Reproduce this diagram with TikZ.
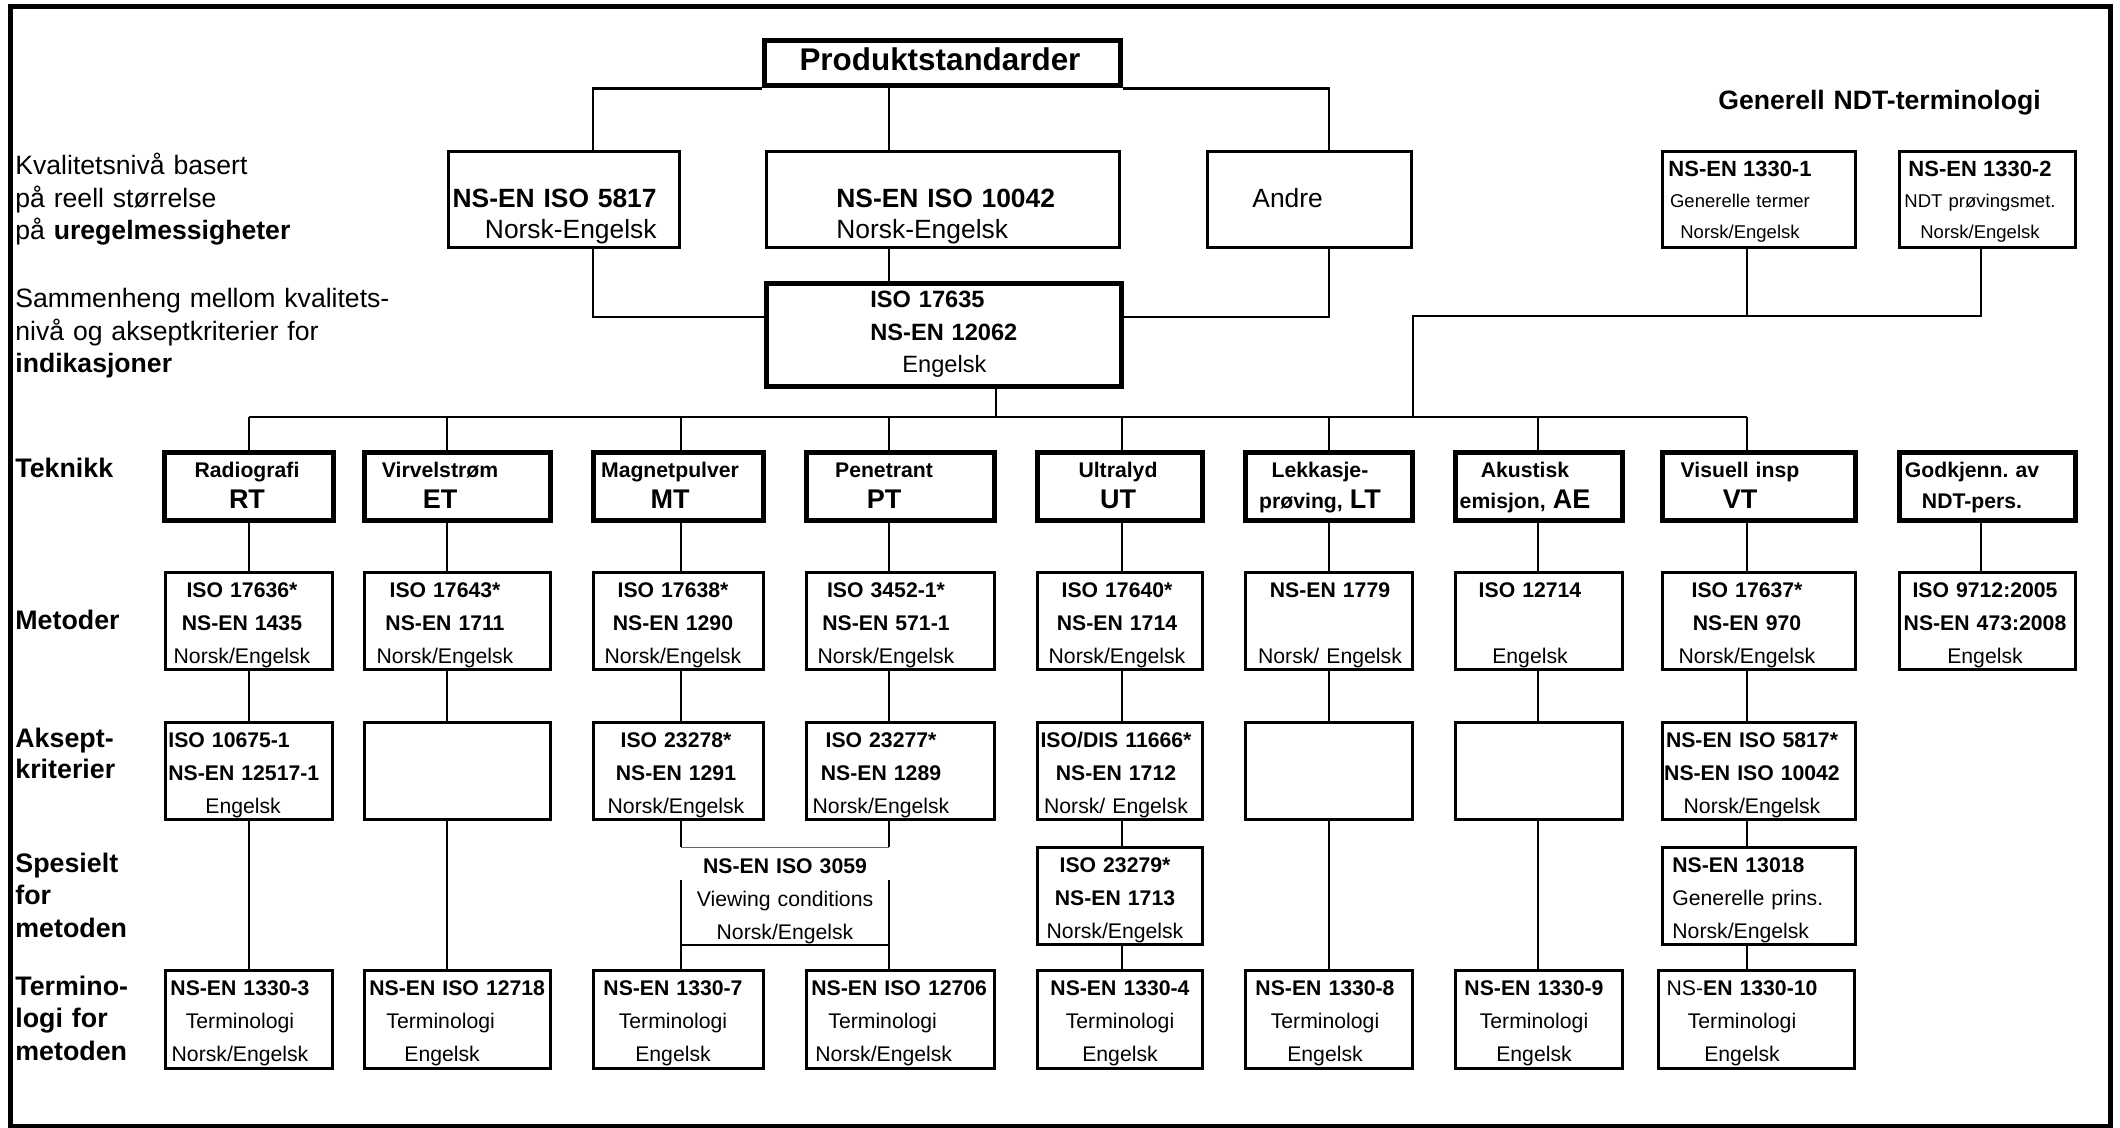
\documentclass[tikz,border=0pt]{standalone}
\usepackage{fontspec}
\setmainfont{Liberation Sans}
\usetikzlibrary{calc}
\tikzset{
  frame/.style={line width=2.5pt},
  conn/.style={line width=1.35pt},
  nbox/.style={draw, line width=1.5pt, inner sep=0pt},
  tbox/.style={draw, line width=2.75pt, inner sep=0pt},
  sbox/.style={inner sep=0pt},
  txt/.style={inner sep=0pt, text width=160pt, align=center, anchor=base, font=\fontsize{10.6}{16.5}\selectfont},
  txtL/.style={align=left, anchor=base west},
  txtR/.style={align=right, anchor=base east},
  tfont/.style={font=\fontsize{10.6}{15.5}\selectfont\bfseries},
  gfont/.style={font=\fontsize{9.25}{15.5}\selectfont},
  lbl/.style={inner sep=0pt, text width=220pt, align=left, anchor=base west, font=\fontsize{13.3}{16.25}\selectfont},
  lblB/.style={lbl, font=\fontsize{13.4}{16.25}\selectfont\bfseries},
}
\newcommand{\mkbox}[9]{%
  \node[#1, minimum width={(#5-#3-3)*0.5pt}, minimum height={(#6-#4-3)*0.5pt}] (#2) at ({(#3+#5)/2},{(#4+#6)/2}) {};
  \node[txt, #7] (#2-t) at (#8) {#9};
}
\newcommand{\techab}[1]{{\fontsize{13.5}{15.5}\selectfont #1}}
\newcommand{\gbold}[1]{{\fontsize{11}{15.5}\selectfont\bfseries #1}}
\begin{document}
\frenchspacing
\begin{tikzpicture}[x=0.5pt,y=-0.5pt]
\useasboundingbox (0,0) rectangle (2120,1128);
\draw[frame] (10.5,6.5) rectangle (2110,1126);

% helper coordinates
\coordinate (bus) at (0,417);
\coordinate (h317) at (0,317);
\coordinate (h316) at (0,316);
\coordinate (h880) at (0,880);
\coordinate (cRT) at (249,0);
\coordinate (cET) at (447,0);
\coordinate (cMT) at (681,0);
\coordinate (cPT) at (889,0);
\coordinate (cUT) at (1122,0);
\coordinate (cLT) at (1329,0);
\coordinate (cAE) at (1538,0);
\coordinate (cVT) at (1747,0);
\coordinate (cGK) at (1981,0);
\coordinate (c593) at (593,0);
\coordinate (c996) at (996,0);
\coordinate (c1413) at (1413,0);

% left texts
\node[lbl] (kval) at (15,175) {Kvalitetsnivå basert\\på reell størrelse\\på \textbf{uregelmessigheter}};
\node[lbl] (samm) at (15,308) {Sammenheng mellom kvalitets-\\nivå og akseptkriterier for\\\textbf{indikasjoner}};
\node[lbl, font=\fontsize{13.3}{16}\selectfont\bfseries] (gen) at (1718,110) {Generell NDT-terminologi};

\node[lblB] (rTek) at (15,478) {Teknikk};
\node[lblB] (rMet) at (15,629) {Metoder};
\node[lblB, font=\fontsize{13.4}{15.75}\selectfont\bfseries] (rAks) at (15,747) {Aksept-\\kriterier};
\node[lblB] (rSpe) at (15,872) {Spesielt\\for\\metoden};
\node[lblB] (rTer) at (15,995) {Termino-\\logi for\\metoden};

% top boxes
\mkbox{tbox}{prod}{763}{39}{1122}{87}{font=\fontsize{15.7}{18}\selectfont\bfseries}{940,71}{Produktstandarder}
\mkbox{nbox}{b5817}{447}{150}{681}{249}{txtR, font=\fontsize{13.2}{15.5}\selectfont}{657,208}{\textbf{NS-EN ISO 5817}\\Norsk-Engelsk}
\mkbox{nbox}{b10042}{765}{150}{1121}{249}{txtL, font=\fontsize{13.2}{15.5}\selectfont}{836,208}{\textbf{NS-EN ISO 10042}\\Norsk-Engelsk}
\mkbox{nbox}{andre}{1206}{150}{1413}{249}{txtL, font=\fontsize{13.2}{15.5}\selectfont}{1252,208}{Andre}
\mkbox{nbox}{n13301}{1661}{150}{1857}{249}{gfont}{1740,177}{\gbold{NS-EN 1330-1}\\Generelle termer\\Norsk/Engelsk}
\mkbox{nbox}{n13302}{1898}{150}{2077}{249}{gfont}{1980,177}{\gbold{NS-EN 1330-2}\\NDT prøvingsmet.\\Norsk/Engelsk}
\mkbox{tbox}{iso}{765}{282}{1123}{388}{txtL, font=\fontsize{11.8}{16.25}\selectfont}{870,308}{\textbf{ISO 17635}\\\textbf{NS-EN 12062}\\\hspace*{16pt}Engelsk}

% technique row
\mkbox{tbox}{tRT}{163}{451}{335}{522}{tfont}{247,478}{Radiografi\\\techab{RT}}
\mkbox{tbox}{tET}{363}{451}{552}{522}{tfont}{440,478}{Virvelstrøm\\\techab{ET}}
\mkbox{tbox}{tMT}{592}{451}{765}{522}{tfont}{670,478}{Magnetpulver\\\techab{MT}}
\mkbox{tbox}{tPT}{805}{451}{996}{522}{tfont}{884,478}{Penetrant\\\techab{PT}}
\mkbox{tbox}{tUT}{1036}{451}{1204}{522}{tfont}{1118,478}{Ultralyd\\\techab{UT}}
\mkbox{tbox}{tLT}{1244}{451}{1414}{522}{tfont}{1320,478}{Lekkasje-\\prøving, \techab{LT}}
\mkbox{tbox}{tAE}{1454}{451}{1624}{522}{tfont}{1525,478}{Akustisk\\emisjon, \techab{AE}}
\mkbox{tbox}{tVT}{1661}{451}{1857}{522}{tfont}{1740,478}{Visuell insp\\\techab{VT}}
\mkbox{tbox}{tGK}{1898}{451}{2077}{522}{tfont}{1972,478}{Godkjenn. av\\NDT-pers.}

% metoder row
\mkbox{nbox}{mRT}{164}{571}{334}{671}{}{242,597}{\textbf{ISO 17636*}\\\textbf{NS-EN 1435}\\Norsk/Engelsk}
\mkbox{nbox}{mET}{363}{571}{552}{671}{}{445,597}{\textbf{ISO 17643*}\\\textbf{NS-EN 1711}\\Norsk/Engelsk}
\mkbox{nbox}{mMT}{592}{571}{765}{671}{}{673,597}{\textbf{ISO 17638*}\\\textbf{NS-EN 1290}\\Norsk/Engelsk}
\mkbox{nbox}{mPT}{805}{571}{996}{671}{}{886,597}{\textbf{ISO 3452-1*}\\\textbf{NS-EN 571-1}\\Norsk/Engelsk}
\mkbox{nbox}{mUT}{1036}{571}{1204}{671}{}{1117,597}{\textbf{ISO 17640*}\\\textbf{NS-EN 1714}\\Norsk/Engelsk}
\mkbox{nbox}{mLT}{1244}{571}{1414}{671}{}{1330,597}{\textbf{NS-EN 1779}\\\mbox{}\\Norsk/ Engelsk}
\mkbox{nbox}{mAE}{1454}{571}{1624}{671}{}{1530,597}{\textbf{ISO 12714}\\\mbox{}\\Engelsk}
\mkbox{nbox}{mVT}{1661}{571}{1857}{671}{}{1747,597}{\textbf{ISO 17637*}\\\textbf{NS-EN 970}\\Norsk/Engelsk}
\mkbox{nbox}{mGK}{1898}{571}{2077}{671}{}{1985,597}{\textbf{ISO 9712:2005}\\\textbf{NS-EN 473:2008}\\Engelsk}

% aksept row
\mkbox{nbox}{aRT}{164}{721}{334}{821}{txtL}{168,747}{\textbf{ISO 10675-1}\\\textbf{NS-EN 12517-1}\\\hspace*{18.5pt}Engelsk}
\mkbox{nbox}{aET}{363}{721}{552}{821}{}{457,747}{}
\mkbox{nbox}{aMT}{592}{721}{765}{821}{}{676,747}{\textbf{ISO 23278*}\\\textbf{NS-EN 1291}\\Norsk/Engelsk}
\mkbox{nbox}{aPT}{805}{721}{996}{821}{}{881,747}{\textbf{ISO 23277*}\\\textbf{NS-EN 1289}\\Norsk/Engelsk}
\mkbox{nbox}{aUT}{1036}{721}{1204}{821}{}{1116,747}{\textbf{ISO/DIS 11666*}\\\textbf{NS-EN 1712}\\Norsk/ Engelsk}
\mkbox{nbox}{aLT}{1244}{721}{1414}{821}{}{1329,747}{}
\mkbox{nbox}{aAE}{1454}{721}{1624}{821}{}{1539,747}{}
\mkbox{nbox}{aVT}{1661}{721}{1857}{821}{}{1752,747}{\textbf{NS-EN ISO 5817*}\\\textbf{NS-EN ISO 10042}\\Norsk/Engelsk}

% special row
\mkbox{sbox}{sMP}{681}{846}{889}{946}{}{785,873}{\textbf{NS-EN ISO 3059}\\Viewing conditions\\Norsk/Engelsk}
\mkbox{nbox}{sUT}{1036}{846}{1204}{946}{}{1115,872}{\textbf{ISO 23279*}\\\textbf{NS-EN 1713}\\Norsk/Engelsk}
\mkbox{nbox}{sVT}{1661}{846}{1857}{946}{txtL}{1672,872}{\textbf{NS-EN 13018}\\Generelle prins.\\Norsk/Engelsk}

% terminology row
\mkbox{nbox}{eRT}{164}{969}{334}{1070}{}{240,995}{\textbf{NS-EN 1330-3}\\Terminologi\\Norsk/Engelsk}
\mkbox{nbox}{eET}{363}{969}{552}{1070}{txtL}{369,995}{\textbf{NS-EN ISO 12718}\\\hspace*{8.5pt}Terminologi\\\hspace*{17.5pt}Engelsk}
\mkbox{nbox}{eMT}{592}{969}{765}{1070}{}{673,995}{\textbf{NS-EN 1330-7}\\Terminologi\\Engelsk}
\mkbox{nbox}{ePT}{805}{969}{996}{1070}{txtL}{811,995}{\textbf{NS-EN ISO 12706}\\\hspace*{8.5pt}Terminologi\\\hspace*{2pt}Norsk/Engelsk}
\mkbox{nbox}{eUT}{1036}{969}{1204}{1070}{}{1120,995}{\textbf{NS-EN 1330-4}\\Terminologi\\Engelsk}
\mkbox{nbox}{eLT}{1244}{969}{1414}{1070}{}{1325,995}{\textbf{NS-EN 1330-8}\\Terminologi\\Engelsk}
\mkbox{nbox}{eAE}{1454}{969}{1624}{1070}{}{1534,995}{\textbf{NS-EN 1330-9}\\Terminologi\\Engelsk}
\mkbox{nbox}{eVT}{1657}{969}{1856}{1070}{}{1742,995}{NS-\textbf{EN 1330-10}\\Terminologi\\Engelsk}

% connectors: top part
\draw[conn] (b5817.north -| c593) |- (prod.south west);
\draw[conn] (prod.south east) -| (andre.north -| cLT);
\draw[conn] (prod.south -| cPT) -- (b10042.north -| cPT);
\draw[conn] (b5817.south -| c593) |- (iso.west |- h317);
\draw[conn] (andre.south -| cLT) |- (iso.east |- h317);
\draw[conn] (b10042.south -| cPT) -- (iso.north -| cPT);
\draw[conn] (iso.south -| c996) -- (bus -| c996);
\draw[conn] (n13302.south -| cGK) |- (h316 -| c1413) -- (bus -| c1413);
\draw[conn] (n13301.south -| cVT) -- (h316 -| cVT);
\draw[conn] (bus -| cRT) -- (bus -| cVT);

% connectors: columns
\foreach \c in {RT,ET,MT,PT,UT,LT,AE,VT} {\draw[conn] (bus -| c\c) -- (t\c.north -| c\c);}
\foreach \c in {RT,ET,MT,PT,UT,LT,AE,VT,GK} {\draw[conn] (t\c.south -| c\c) -- (m\c.north -| c\c);}
\foreach \c in {RT,ET,MT,PT,UT,LT,AE,VT} {\draw[conn] (m\c.south -| c\c) -- (a\c.north -| c\c);}
\foreach \c in {RT,ET,LT,AE} {\draw[conn] (a\c.south -| c\c) -- (e\c.north -| c\c);}
\foreach \c in {UT,VT} {
  \draw[conn] (a\c.south -| c\c) -- (s\c.north -| c\c);
  \draw[conn] (s\c.south -| c\c) -- (e\c.north -| c\c);
}
\foreach \c in {MT,PT} {
  \draw[conn] (a\c.south -| c\c) -- (sMP.north -| c\c);
  \draw[conn] (h880 -| c\c) -- (sMP.south -| c\c) -- (e\c.north -| c\c);
}
\draw[line width=0.6pt, black!60] (sMP.north -| cMT) -- (sMP.north -| cPT);
\draw[line width=1.4pt] (sMP.south -| cMT) -- (sMP.south -| cPT);
\end{tikzpicture}
\end{document}
